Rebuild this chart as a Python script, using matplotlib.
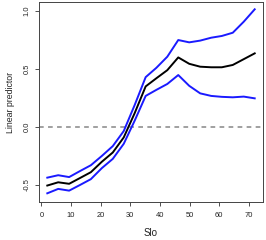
import matplotlib
matplotlib.use("Agg")
import matplotlib.pyplot as plt
from matplotlib.ticker import FixedLocator, FixedFormatter

slo = [2.0, 5.68, 9.37, 13.05, 16.7, 20.4, 24.1, 27.8, 31.5, 35.2,
       38.8, 42.5, 46.2, 49.9, 53.6, 57.3, 60.9, 64.6, 68.3, 72.0]
fit = [-0.505, -0.477, -0.49, -0.44, -0.39, -0.30, -0.22, -0.09, 0.12, 0.35,
       0.42, 0.49, 0.60, 0.545, 0.52, 0.515, 0.515, 0.535, 0.585, 0.635]
upper = [-0.437, -0.416, -0.432, -0.38, -0.33, -0.25, -0.165, -0.035, 0.19, 0.43,
         0.51, 0.606, 0.75, 0.73, 0.745, 0.77, 0.785, 0.813, 0.908, 1.015]
lower = [-0.572, -0.534, -0.549, -0.50, -0.45, -0.355, -0.275, -0.145, 0.055, 0.268,
         0.32, 0.371, 0.448, 0.355, 0.29, 0.268, 0.26, 0.256, 0.262, 0.247]

xticks = [0, 10, 20, 30, 40, 50, 60, 70]
yticks = [-0.5, 0.0, 0.5, 1.0]
ytick_labels = ["-0.5", "0.0", "0.5", "1.0"]

plt.rcParams['font.family'] = ['Liberation Sans', 'DejaVu Sans']

fig = plt.figure(figsize=(2.66, 2.40), dpi=100)
ax = fig.add_axes([39/266, 1 - 202/240, (263-39)/266, (202-2)/240])

ax.axhline(0, color="#999999", lw=1.3, linestyle=(0, (2.6, 2.4)), zorder=1)
ax.plot(slo, upper, color="#1a1aff", lw=1.4, zorder=2)
ax.plot(slo, lower, color="#1a1aff", lw=1.4, zorder=2)
ax.plot(slo, fit, color="black", lw=1.4, zorder=3)

ax.set_xlim(-0.8, 74.8)
ax.set_ylim(-0.647, 1.078)

ax.xaxis.set_major_locator(FixedLocator(xticks))
ax.yaxis.set_major_locator(FixedLocator(yticks))
ax.yaxis.set_major_formatter(FixedFormatter(ytick_labels))
ax.tick_params(axis="both", labelsize=5.4, length=3, width=0.6, colors="#333333",
               labelcolor="#222222")
ax.tick_params(axis="x", pad=4.5)
ax.tick_params(axis="y", pad=3)
for lab in ax.get_yticklabels():
    lab.set_rotation(90)
    lab.set_va("center")
for s in ax.spines.values():
    s.set_linewidth(0.7)
    s.set_color("#444444")

ax.set_xlabel("Slo", fontsize=7.0, labelpad=6, color="#222222")
ax.set_ylabel("Linear predictor", fontsize=6.3, labelpad=6, color="#222222")

fig.savefig("out.png", dpi=100)
